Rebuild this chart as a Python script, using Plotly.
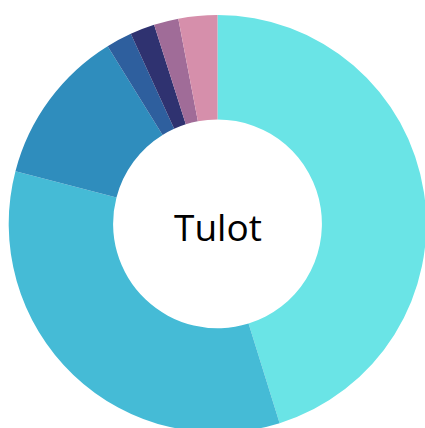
import plotly.graph_objects as go

labels = ["A", "B", "C", "D", "E", "F", "G"]
values = [45.1, 33.8, 12.1, 2.0, 1.9, 1.9, 3.0]
colors = ["#6ae4e6", "#45bbd6", "#2f8dbd", "#2e5f9e", "#2f3270", "#a06c98", "#d68fab"]
center_text = "Tulot"

W, H = 435, 448
fig = go.Figure(go.Pie(
    labels=labels, values=values, hole=0.5, sort=False, direction="clockwise",
    rotation=0, marker=dict(colors=colors, line=dict(width=0)),
    textinfo="none", hoverinfo="label+percent", showlegend=False,
    domain=dict(x=[0, 1], y=[15.4 / H, 1 - 15 / H]),
))
fig.add_annotation(text=center_text, x=0.5, y=0.5 - 2.5 / H, xref="paper", yref="paper",
                   showarrow=False, font=dict(family="Open Sans", size=37, color="#000000"))
fig.update_layout(width=W, height=H, margin=dict(l=0, r=0, t=0, b=0),
                  paper_bgcolor="white", plot_bgcolor="white")
fig.write_html("out.html", config={"displayModeBar": False}, post_script=(
    "document.body.style.margin='0';document.body.style.overflow='hidden';"
    "document.documentElement.style.overflow='hidden';"))
